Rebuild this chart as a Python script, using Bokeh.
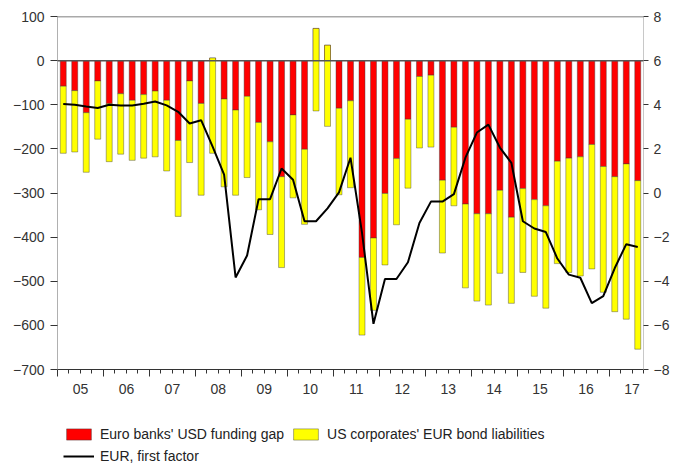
from bokeh.plotting import figure
from bokeh.layouts import column
from bokeh.models import (Range1d, LinearAxis, FixedTicker, Span, Legend,
                          LegendItem, ColumnDataSource)
from bokeh.embed import file_html
from bokeh.resources import INLINE

# ---------------- data ----------------
quarters = [f"{y}Q{q}" for y in range(2005, 2018) for q in range(1, 5)][:51]

funding_gap = [-58, -68, -118, -46, -98, -75, -90, -77, -69, -90,
               -181, -46, -97, 6, -87, -112, -81, -140, -184, -263,
               -123, -201, 73, 35, -108, -91, -446, -402, -301, -222,
               -133, -36, -33, -271, -151, -325, -347, -347, -294, -355,
               -290, -315, -329, -228, -221, -218, -190, -240, -263, -234, -272]

bond_liabilities = [-152, -139, -135, -132, -131, -137, -136, -144, -149, -160,
                    -172, -185, -208, -216, -199, -193, -184, -198, -210, -206,
                    -188, -170, -187, -184, -196, -197, -176, -164, -162, -150,
                    -156, -162, -163, -165, -178, -190, -198, -207, -188, -195,
                    -190, -219, -232, -232, -259, -270, -282, -285, -306, -352, -382]

eur_factor = [4.03, 4.0, 3.92, 3.85, 4.0, 3.97, 3.97, 4.05, 4.15, 3.97,
              3.68, 3.15, 3.3, 2.1, 0.83, -3.83, -2.83, -0.28, -0.28, 1.11,
              0.6, -1.28, -1.28, -0.7, 0.03, 1.6, -1.8, -5.93, -3.9, -3.9,
              -3.14, -1.36, -0.39, -0.39, -0.05, 1.6, 2.74, 3.1, 2.06, 1.37,
              -1.28, -1.61, -1.77, -2.97, -3.7, -3.84, -4.99, -4.67, -3.4, -2.32, -2.45]

years = list(range(2005, 2018))
year_labels = ["05", "06", "07", "08", "09", "10", "11", "12", "13", "14", "15", "16", "17"]
left_ticks = list(range(-700, 101, 100))
right_ticks = list(range(-8, 9, 2))

labels = ["Euro banks' USD funding gap", "US corporates' EUR bond liabilities",
          "EUR, first factor"]
colors = ["#FF0000", "#FFFF00"]

# ---------------- derived ----------------
x = [int(s[:4]) + (int(s[-1]) - 0.5) / 4 for s in quarters]
x_end = int(quarters[-1][:4]) + int(quarters[-1][-1]) / 4

FONT = "Liberation Sans"
FS = "14px"
TXT = "#333333"
BAR_LINE = dict(line_color="#3a3a3a", line_width=0.6, line_alpha=0.7)

p = figure(width=673, height=405, x_range=Range1d(years[0], x_end),
           y_range=Range1d(-700, 100), output_backend="svg",
           toolbar_location=None, min_border_left=57, min_border_right=30,
           min_border_top=16, min_border_bottom=36)
p.extra_y_ranges = {"right": Range1d(-8, 8)}
p.xgrid.visible = False
p.ygrid.visible = False
p.outline_line_color = None

src = ColumnDataSource(dict(x=x, gap=funding_gap, bond=bond_liabilities, eur=eur_factor))
bars = p.vbar_stack(["gap", "bond"], x="x", width=0.13, source=src,
                    fill_color=colors, **BAR_LINE)
ln = p.line(x="x", y="eur", source=src, y_range_name="right",
            line_color="black", line_width=2)

p.add_layout(Span(location=0, dimension="width", line_color="#555555", line_width=1.5))
p.add_layout(Span(location=100, dimension="width", line_color="#555555", line_width=1.5))

# x axis: year boundary ticks + quarter minor ticks
xa = p.xaxis[0]
xa.ticker = FixedTicker(ticks=[float(y) for y in years],
                        minor_ticks=[years[0] + i / 4 for i in range(int((x_end - years[0]) * 4) + 1)])
xa.major_label_overrides = {float(y): "" for y in years}
xa.major_label_text_font_size = "1px"
xa.major_label_standoff = 0
xa.major_tick_out = 7
xa.major_tick_in = 0
xa.minor_tick_out = 4
xa.minor_tick_in = 0
xa.axis_line_color = "#333333"
xa.major_tick_line_color = "#333333"
xa.minor_tick_line_color = "#333333"

xl = LinearAxis(ticker=FixedTicker(ticks=[y + 0.5 for y in years]),
                major_label_overrides={y + 0.5: l for y, l in zip(years, year_labels)},
                axis_line_color=None, major_tick_line_color=None,
                minor_tick_line_color=None, major_tick_out=0, minor_tick_out=0,
                major_tick_in=0, minor_tick_in=0, major_label_standoff=7)
xl.major_label_text_font = FONT
xl.major_label_text_font_size = FS
xl.major_label_text_color = TXT
p.add_layout(xl, "below")

ya = p.yaxis[0]
ya.ticker = FixedTicker(ticks=left_ticks)
ya.axis_line_color = "#b0b0b0"
ya.major_tick_line_color = "#333333"
ya.major_tick_out = 7
ya.major_tick_in = 0
ya.minor_tick_line_color = None
ya.major_label_standoff = 6
ya.major_label_text_font = FONT
ya.major_label_text_font_size = FS
ya.major_label_text_color = TXT

yr = LinearAxis(y_range_name="right", ticker=FixedTicker(ticks=right_ticks))
yr.axis_line_color = "#c8c8c8"
yr.major_tick_line_color = "#333333"
yr.major_tick_out = 5
yr.major_tick_in = 0
yr.minor_tick_line_color = None
yr.major_label_standoff = 5
yr.major_label_text_font = FONT
yr.major_label_text_font_size = FS
yr.major_label_text_color = TXT
p.add_layout(yr, "right")

# ---------------- legend strip under the chart ----------------
# Same series, drawn into a range where nothing is visible; only the legend shows.
lg = figure(width=673, height=62, x_range=Range1d(0, 1), y_range=Range1d(1000, 1001),
            output_backend="svg", toolbar_location=None, min_border=0,
            x_axis_location=None, y_axis_location=None)
lg.xgrid.visible = False
lg.ygrid.visible = False
lg.outline_line_color = None
lbars = lg.vbar_stack(["gap", "bond"], x="x", width=0.13, source=src,
                      fill_color=colors, **BAR_LINE)
lline = lg.line(x="x", y="eur", source=src, line_color="black", line_width=2)

legend = Legend(items=[LegendItem(label=labels[0], renderers=[lbars[0]]),
                       LegendItem(label=labels[1], renderers=[lbars[1]]),
                       LegendItem(label=labels[2], renderers=[lline])],
                location=(6, 3), orientation="horizontal", ncols=2,
                glyph_width=31, glyph_height=14, label_height=14,
                label_standoff=6, spacing=6, padding=0, margin=0,
                border_line_color=None, background_fill_alpha=0,
                label_text_font=FONT, label_text_font_size=FS,
                label_text_color="#222222")
lg.add_layout(legend, "center")

layout = column(p, lg, spacing=0)
open("out.html", "w").write(file_html(layout, INLINE))
